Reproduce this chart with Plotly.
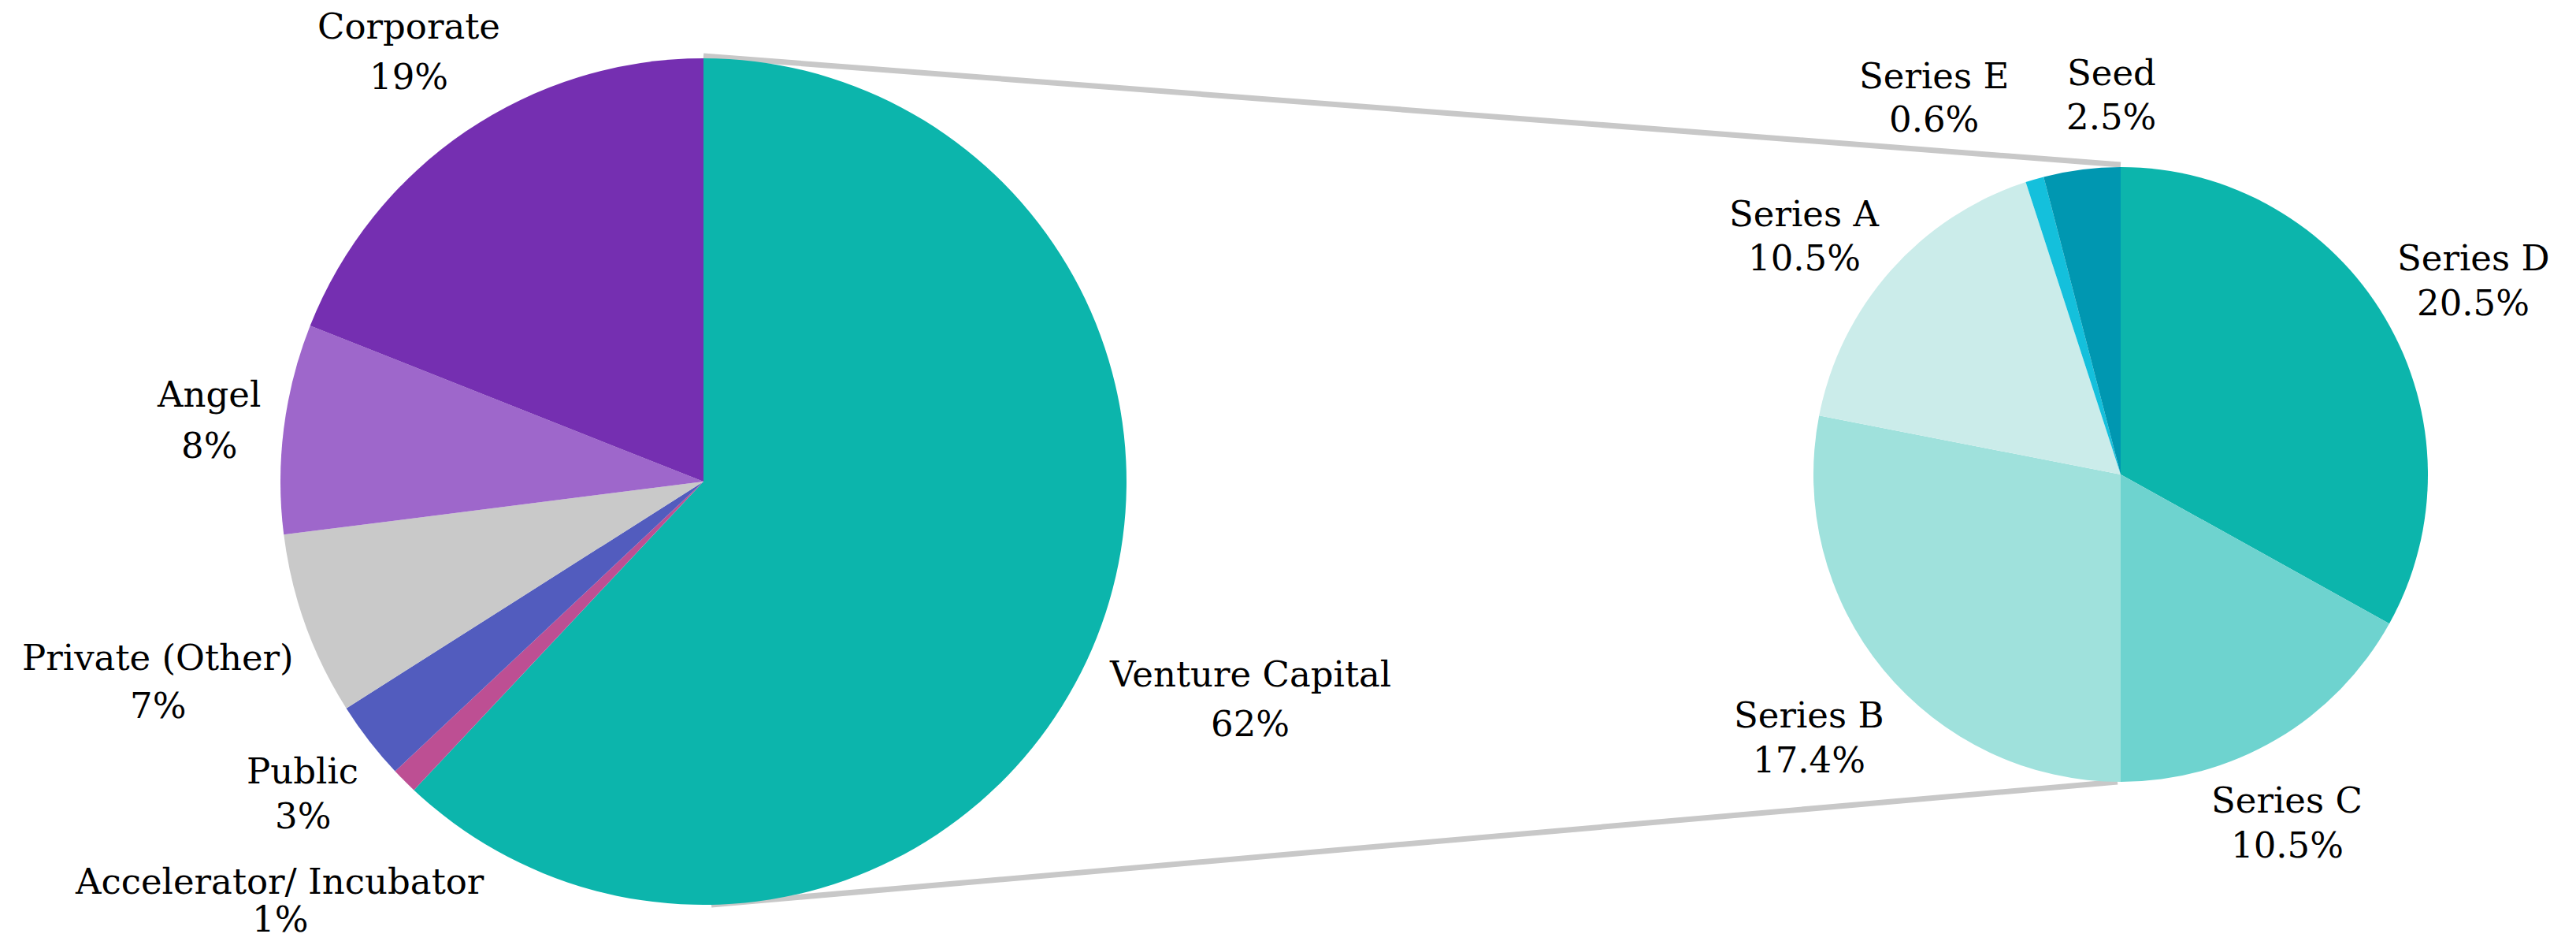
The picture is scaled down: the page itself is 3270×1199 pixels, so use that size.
import plotly.graph_objects as go

# ---- data ----
main_labels = ["Venture Capital", "Accelerator/ Incubator", "Public", "Private (Other)", "Angel", "Corporate"]
main_values = [62, 1, 3, 7, 8, 19]
main_colors = ["#0CB5AC", "#BD4F93", "#525CBE", "#C9C9C9", "#9E67CB", "#752FB1"]

vc_labels = ["Series D", "Series C", "Series B", "Series A", "Series E", "Seed"]
vc_values = [20.5, 10.5, 17.4, 10.5, 0.6, 2.5]
vc_colors = ["#0CB5AC", "#6ED3CF", "#9FE1DC", "#CBECEA", "#14C0DC", "#0097B1"]

W, H = 3270, 1199
FONT = "DejaVu Serif"

# pie geometry (pixels)
L_cx, L_cy, L_r = 893, 611, 537
R_cx, R_cy, R_r = 2692, 602, 390


def dom(cx, cy, r):
    return dict(x=[(cx - r) / W, (cx + r) / W], y=[1 - (cy + r) / H, 1 - (cy - r) / H])


fig = go.Figure()
fig.add_trace(go.Pie(
    labels=main_labels, values=main_values, sort=False, direction="clockwise", rotation=0,
    marker=dict(colors=main_colors, line=dict(width=0)), textinfo="none",
    domain=dom(L_cx, L_cy, L_r), showlegend=False, hoverinfo="label+percent"))
fig.add_trace(go.Pie(
    labels=vc_labels, values=vc_values, sort=False, direction="clockwise", rotation=0,
    marker=dict(colors=vc_colors, line=dict(width=0)), textinfo="none",
    domain=dom(R_cx, R_cy, R_r), showlegend=False, hoverinfo="label+value"))

# connector lines between the two pies
line_style = dict(color="#C8C8C8", width=7)
fig.add_shape(type="line", xref="paper", yref="paper",
              x0=L_cx / W, y0=1 - (L_cy - L_r - 3) / H, x1=R_cx / W, y1=1 - (R_cy - R_r - 3) / H,
              line=line_style, layer="below")
fig.add_shape(type="line", xref="paper", yref="paper",
              x0=(L_cx + 10) / W, y0=1 - (L_cy + L_r) / H, x1=(R_cx - 4) / W, y1=1 - (R_cy + R_r) / H,
              line=line_style, layer="below")

# label positions (pixels, centre of the two-line block: name line, value line)
main_pos = {
    "Venture Capital": (1587, 855, 918),
    "Accelerator/ Incubator": (355, 1118, 1166),
    "Public": (384, 978, 1035),
    "Private (Other)": (200, 834, 895),
    "Angel": (265, 500, 565),
    "Corporate": (519, 33, 98),
}
vc_pos = {
    "Series D": (3139, 327, 384),
    "Series C": (2903, 1016, 1072),
    "Series B": (2296, 907, 964),
    "Series A": (2290, 271, 327),
    "Series E": (2455, 96, 152),
    "Seed": (2680, 92, 148),
}


def add_label(name, value_text, pos):
    x, y1, y2 = pos
    for txt, y in ((name, y1), (value_text, y2)):
        fig.add_annotation(x=x / W, y=1 - y / H, xref="paper", yref="paper", text=txt,
                           showarrow=False, xanchor="center", yanchor="middle",
                           font=dict(family=FONT, size=45, color="#000000"))


for lab, val in zip(main_labels, main_values):
    add_label(lab, f"{val}%", main_pos[lab])
for lab, val in zip(vc_labels, vc_values):
    add_label(lab, f"{val}%", vc_pos[lab])

fig.update_layout(width=W, height=H, margin=dict(l=0, r=0, t=0, b=0),
                  paper_bgcolor="white", plot_bgcolor="white", showlegend=False)

fig.write_html("out.html")
